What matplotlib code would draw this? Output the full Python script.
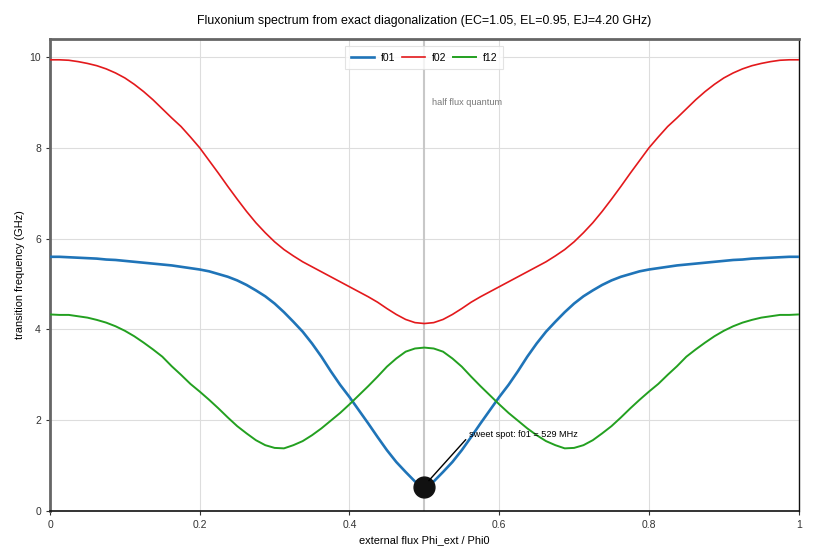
import numpy as np
import matplotlib
matplotlib.use('Agg')
import matplotlib.pyplot as plt

plt.rcParams['font.family'] = ['Liberation Sans', 'DejaVu Sans']

# flux grid, 81 points from 0 to 1
phi = np.linspace(0, 1, 81)

f01 = [5.60, 5.60, 5.59, 5.58, 5.57, 5.56, 5.54, 5.53, 5.51, 5.49,
       5.47, 5.45, 5.43, 5.41, 5.38, 5.35, 5.32, 5.28, 5.22, 5.16,
       5.08, 4.98, 4.86, 4.73, 4.57, 4.38, 4.17, 3.95, 3.69, 3.40,
       3.08, 2.78, 2.51, 2.22, 1.93, 1.63, 1.34, 1.08, 0.86, 0.65,
       0.53,
       0.65, 0.86, 1.08, 1.34, 1.63, 1.93, 2.22, 2.51, 2.78, 3.08,
       3.40, 3.69, 3.95, 4.17, 4.38, 4.57, 4.73, 4.86, 4.98, 5.08,
       5.16, 5.22, 5.28, 5.32, 5.35, 5.38, 5.41, 5.43, 5.45, 5.47,
       5.49, 5.51, 5.53, 5.54, 5.56, 5.57, 5.58, 5.59, 5.60, 5.60]

f02 = [9.94, 9.94, 9.93, 9.90, 9.86, 9.81, 9.74, 9.65, 9.54, 9.40,
       9.24, 9.06, 8.86, 8.66, 8.47, 8.24, 8.00, 7.72, 7.44, 7.15,
       6.87, 6.60, 6.35, 6.13, 5.93, 5.76, 5.62, 5.49, 5.38, 5.27,
       5.16, 5.05, 4.94, 4.83, 4.72, 4.60, 4.46, 4.33, 4.22, 4.15,
       4.13,
       4.15, 4.22, 4.33, 4.46, 4.60, 4.72, 4.83, 4.94, 5.05, 5.16,
       5.27, 5.38, 5.49, 5.62, 5.76, 5.93, 6.13, 6.35, 6.60, 6.87,
       7.15, 7.44, 7.72, 8.00, 8.24, 8.47, 8.66, 8.86, 9.06, 9.24,
       9.40, 9.54, 9.65, 9.74, 9.81, 9.86, 9.90, 9.93, 9.94, 9.94]

f12 = [4.33, 4.32, 4.32, 4.29, 4.26, 4.21, 4.15, 4.07, 3.97, 3.85,
       3.71, 3.56, 3.40, 3.19, 3.00, 2.80, 2.63, 2.45, 2.26, 2.06,
       1.87, 1.71, 1.56, 1.45, 1.39, 1.38, 1.45, 1.54, 1.67, 1.82,
       1.99, 2.16, 2.35, 2.55, 2.75, 2.96, 3.18, 3.36, 3.51, 3.58,
       3.60,
       3.58, 3.51, 3.36, 3.18, 2.96, 2.75, 2.55, 2.35, 2.16, 1.99,
       1.82, 1.67, 1.54, 1.45, 1.38, 1.39, 1.45, 1.56, 1.71, 1.87,
       2.06, 2.26, 2.45, 2.63, 2.80, 3.00, 3.19, 3.40, 3.56, 3.71,
       3.85, 3.97, 4.07, 4.15, 4.21, 4.26, 4.29, 4.32, 4.32, 4.33]

sweet_x = 0.5
sweet_f = 0.529

fig = plt.figure(figsize=(8.2, 5.6), dpi=100)
ax = fig.add_axes([0.061, 0.0875, 0.913, 0.843])

ax.axvline(0.5, color='#c8c8c8', lw=1.5, zorder=1)
ax.plot(phi, f01, color='#1f74b8', lw=1.9, label='f01', zorder=3)
ax.plot(phi, f02, color='#e3191c', lw=1.2, label='f02', zorder=3)
ax.plot(phi, f12, color='#23a020', lw=1.4, label='f12', zorder=3)

ax.plot([sweet_x], [sweet_f], 'o', color='#111111', markersize=15, zorder=5)
ax.annotate('sweet spot: f01 = %d MHz' % round(sweet_f * 1000),
            xy=(sweet_x + 0.006, sweet_f + 0.14), xytext=(0.559, 1.68),
            fontsize=6.6, va='center', ha='left',
            arrowprops=dict(arrowstyle='-', color='black', lw=1,
                            shrinkA=0, shrinkB=0, relpos=(0, 0.3)),
            zorder=6)
ax.text(0.510, 8.95, 'half flux quantum', fontsize=6.6, color='#777777')

ax.set_xlim(0, 1)
ax.set_ylim(0, 10.4)
ax.set_xticks([0, 0.2, 0.4, 0.6, 0.8, 1])
ax.set_xticklabels(['0', '0.2', '0.4', '0.6', '0.8', '1'])
ax.set_yticks([0, 2, 4, 6, 8, 10])
ax.tick_params(labelsize=7.5, length=3, colors='#333333')
ax.grid(True, color='#dddddd', lw=0.8)
ax.set_axisbelow(True)

ax.spines['left'].set_color('#666666')
ax.spines['left'].set_linewidth(2)
ax.spines['top'].set_color('#666666')
ax.spines['top'].set_linewidth(2)
ax.spines['bottom'].set_color('#111111')
ax.spines['bottom'].set_linewidth(1.2)
ax.spines['right'].set_color('#111111')
ax.spines['right'].set_linewidth(1)

ax.set_xlabel('external flux Phi_ext / Phi0', fontsize=7.9)
ax.set_ylabel('transition frequency (GHz)', fontsize=7.9, labelpad=3)
ax.set_title('Fluxonium spectrum from exact diagonalization (EC=1.05, EL=0.95, EJ=4.20 GHz)',
             fontsize=8.9, pad=11)

leg = ax.legend(loc='upper center', ncol=3, fontsize=7.5, frameon=True,
                fancybox=False, edgecolor='#dddddd', handlelength=2.2,
                handletextpad=0.6, columnspacing=0.7, borderpad=0.6,
                bbox_to_anchor=(0.5, 0.995))
leg.get_frame().set_linewidth(0.8)

fig.savefig('out.png', dpi=100)
